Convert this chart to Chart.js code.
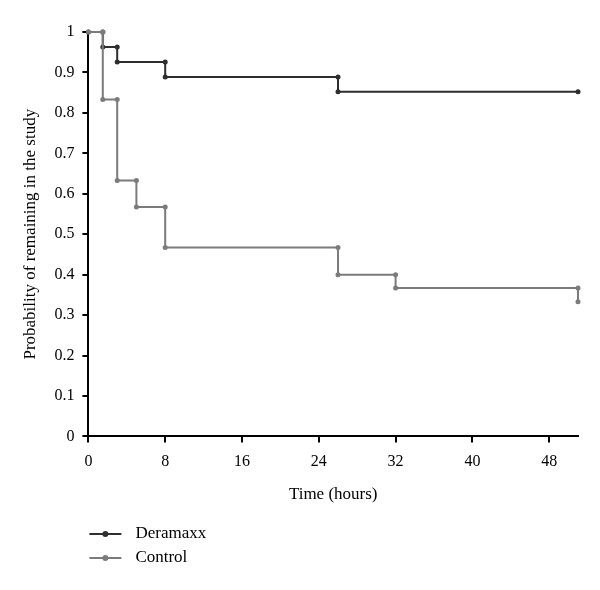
<!DOCTYPE html>
<html>
<head>
<meta charset="utf-8">
<script src="https://cdn.jsdelivr.net/npm/chart.js@4.4.1/dist/chart.umd.min.js"></script>
<style>
  body { margin: 0; background: #fff; }
</style>
</head>
<body>
<canvas id="kmChart" width="600" height="590"></canvas>
<script>
// Kaplan-Meier data
const seriesNames = ["Deramaxx", "Control"];
const seriesColors = ["#2e2e2e", "#7b7b7b"];
const deramaxxTimes = [0, 1.5, 3, 8, 26, 51];
const deramaxxSurvival = [1, 0.963, 0.926, 0.889, 0.852, 0.852];
const controlTimes = [0, 1.5, 3, 5, 8, 26, 32, 51];
const controlSurvival = [1, 0.833, 0.633, 0.567, 0.467, 0.4, 0.367, 0.333];
const xTicks = [0, 8, 16, 24, 32, 40, 48];
const yTicks = [0, 0.1, 0.2, 0.3, 0.4, 0.5, 0.6, 0.7, 0.8, 0.9, 1];

const serif = "'Liberation Serif', 'DejaVu Serif', serif";

// turn event times + survival into the corner points of the step curve
function stepPoints(times, surv) {
  const pts = [];
  times.forEach((t, i) => {
    if (i > 0 && surv[i] !== surv[i - 1]) pts.push({ x: t, y: surv[i - 1] });
    pts.push({ x: t, y: surv[i] });
  });
  return pts;
}

// legend stacked under the plot, lined up with the y axis
const bottomLegend = {
  id: "bottomLegend",
  afterDraw(chart) {
    const ctx = chart.ctx;
    const left = chart.chartArea.left;
    const rows = [534, 558];
    ctx.save();
    chart.data.datasets.forEach((ds, i) => {
      const y = rows[i];
      ctx.strokeStyle = ds.borderColor;
      ctx.lineWidth = 2;
      ctx.beginPath();
      ctx.moveTo(left + 1, y);
      ctx.lineTo(left + 33, y);
      ctx.stroke();
      ctx.fillStyle = ds.borderColor;
      ctx.beginPath();
      ctx.arc(left + 17, y, 3, 0, Math.PI * 2);
      ctx.fill();
      ctx.fillStyle = "#000";
      ctx.font = "17px " + serif;
      ctx.textBaseline = "middle";
      ctx.fillText(ds.label, left + 47, y);
    });
    ctx.restore();
  },
};

const axisBase = {
  type: "linear",
  grid: {
    drawOnChartArea: false,
    drawTicks: true,
    tickLength: 6,
    color: "#000",
    lineWidth: 2,
  },
  border: { color: "#000", width: 2 },
};

const tickFont = { family: serif, size: 16 };

new Chart(document.getElementById("kmChart"), {
  type: "line",
  data: {
    datasets: [
      {
        label: seriesNames[0],
        data: stepPoints(deramaxxTimes, deramaxxSurvival),
        borderColor: seriesColors[0],
        backgroundColor: seriesColors[0],
        order: 1,
      },
      {
        label: seriesNames[1],
        data: stepPoints(controlTimes, controlSurvival),
        borderColor: seriesColors[1],
        backgroundColor: seriesColors[1],
        order: 0,
      },
    ],
  },
  options: {
    responsive: false,
    animation: false,
    layout: { padding: { left: 16, right: 22, top: 32, bottom: 81 } },
    elements: {
      line: { borderWidth: 2, tension: 0 },
      point: { radius: 2.5, borderWidth: 0 },
    },
    datasets: { line: { clip: false } },
    plugins: {
      legend: { display: false },
      tooltip: { enabled: false },
    },
    scales: {
      x: {
        ...axisBase,
        min: 0,
        max: 51,
        afterBuildTicks: (scale) => {
          scale.ticks = xTicks.map((v) => ({ value: v }));
        },
        ticks: { color: "#000", font: tickFont, padding: 10 },
        title: {
          display: true,
          text: "Time (hours)",
          color: "#000",
          font: { family: serif, size: 17 },
          padding: { top: 3 },
        },
      },
      y: {
        ...axisBase,
        min: 0,
        max: 1,
        afterBuildTicks: (scale) => {
          scale.ticks = yTicks.map((v) => ({ value: v }));
        },
        ticks: { color: "#000", font: tickFont, padding: 8, callback: (v) => String(v) },
        title: {
          display: true,
          text: "Probability of remaining in the study",
          color: "#000",
          font: { family: serif, size: 17 },
          padding: { bottom: 6 },
        },
      },
    },
  },
  plugins: [bottomLegend],
});
</script>
</body>
</html>
